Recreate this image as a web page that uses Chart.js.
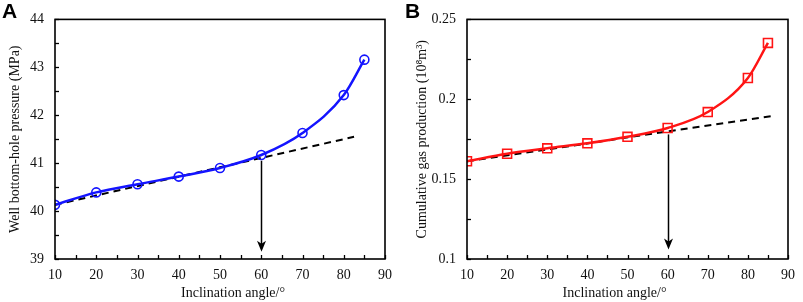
<!DOCTYPE html>
<html>
<head>
<meta charset="utf-8">
<script src="https://cdn.jsdelivr.net/npm/chart.js@4"></script>
<style>
  html, body { margin: 0; padding: 0; background: #fff; }
  .box { position: absolute; top: 0; height: 302px; }
  #box-a { left: 0; width: 400px; }
  #box-b { left: 400px; width: 403px; }
</style>
</head>
<body>
<div class="box" id="box-a"><canvas id="chart-a"></canvas></div>
<div class="box" id="box-b"><canvas id="chart-b"></canvas></div>
<script>
  /* ===================== DATA ===================== */

  let angles = [10, 20, 30, 40, 50, 60, 70, 80, 85];

  let pressure = [40.13, 40.39, 40.56, 40.72, 40.90, 41.17, 41.63, 42.42, 43.16];
  let pressureTrendX = [10, 82.5];
  let pressureTrendY = [40.13, 41.55];
  let pressureArrow = { x: 60, from: 41.05, to: 39.15 };

  let gas = [0.1612, 0.1659, 0.1693, 0.1724, 0.1765, 0.182, 0.192, 0.2133, 0.2353];
  let gasTrendX = [10, 86.3];
  let gasTrendY = [0.1612, 0.1896];
  let gasArrow = { x: 60, from: 0.178, to: 0.106 };

  let xTicks = [10, 20, 30, 40, 50, 60, 70, 80, 90];
  let pressureTicks = [39, 40, 41, 42, 43, 44];
  let gasTicks = [0.1, 0.15, 0.2, 0.25];

  let xTitle = 'Inclination angle/°';

  /* ===================== HELPERS ===================== */

  let serif = 'Liberation Serif, "Times New Roman", serif';
  Chart.defaults.font.family = serif;
  Chart.defaults.color = '#111';

  let pts = (xs, ys) => xs.map((x, i) => ({ x, y: ys[i] }));

  // frame, inward ticks, arrow, x title and panel letter
  let decor = (letter, arrow, xMinor, yMinor, titleShift) => ({
    id: 'decor',
    afterDatasetsDraw(chart) {
      let { ctx, chartArea: a, scales: { x, y } } = chart;
      ctx.save();
      ctx.strokeStyle = '#000';
      ctx.lineWidth = 1.6;
      ctx.strokeRect(a.left, a.top, a.right - a.left, a.bottom - a.top);

      ctx.lineWidth = 1.3;
      for (let v = x.min; v <= x.max + 1e-9; v += xMinor) {
        let px = Math.round(x.getPixelForValue(v)) + 0.5;
        ctx.beginPath();
        ctx.moveTo(px, a.bottom);
        ctx.lineTo(px, a.bottom - 4);
        ctx.stroke();
      }
      for (let v = y.min; v <= y.max + 1e-9; v += yMinor) {
        let py = Math.round(y.getPixelForValue(v)) + 0.5;
        ctx.beginPath();
        ctx.moveTo(a.left, py);
        ctx.lineTo(a.left + 4, py);
        ctx.stroke();
      }

      // arrow
      let ax = Math.round(x.getPixelForValue(arrow.x)) + 0.5;
      let top = y.getPixelForValue(arrow.from);
      let tip = y.getPixelForValue(arrow.to);
      ctx.lineWidth = 1.5;
      ctx.beginPath();
      ctx.moveTo(ax, top);
      ctx.lineTo(ax, tip - 6);
      ctx.stroke();
      ctx.fillStyle = '#000';
      ctx.beginPath();
      ctx.moveTo(ax, tip);
      ctx.lineTo(ax - 4.5, tip - 11);
      ctx.lineTo(ax, tip - 8);
      ctx.lineTo(ax + 4.5, tip - 11);
      ctx.closePath();
      ctx.fill();

      // x title
      ctx.fillStyle = '#111';
      ctx.font = '14px ' + serif;
      ctx.textAlign = 'center';
      ctx.textBaseline = 'middle';
      ctx.fillText(xTitle, (a.left + a.right) / 2 + titleShift, 293);

      // panel letter
      ctx.fillStyle = '#000';
      ctx.font = 'bold 21px Liberation Sans, Arial, sans-serif';
      ctx.textAlign = 'left';
      ctx.textBaseline = 'top';
      ctx.fillText(letter, letter == 'A' ? 2 : 5, 2);
      ctx.restore();
    }
  });

  let makeChart = (id, cfg) => new Chart(document.getElementById(id), {
    type: 'line',
    data: {
      datasets: [
        {
          data: pts(cfg.trendX, cfg.trendY),
          borderColor: '#000',
          borderWidth: 2,
          borderDash: [7, 5],
          pointRadius: 0,
          order: 2
        },
        {
          data: pts(angles, cfg.values),
          borderColor: cfg.color,
          borderWidth: 2.5,
          cubicInterpolationMode: 'monotone',
          pointStyle: cfg.marker,
          pointRadius: cfg.radius,
          pointBorderWidth: 1.6,
          pointBackgroundColor: 'rgba(0,0,0,0)',
          pointBorderColor: cfg.color,
          order: 1
        }
      ]
    },
    options: {
      responsive: true,
      maintainAspectRatio: false,
      animation: false,
      layout: { padding: { left: 0, top: 14, right: cfg.padRight, bottom: 0 } },
      plugins: { legend: { display: false }, tooltip: { enabled: false } },
      scales: {
        x: {
          type: 'linear',
          min: 10, max: 90,
          afterBuildTicks: s => { s.ticks = xTicks.map(value => ({ value })); },
          afterFit: s => { s.height = 43; },
          grid: { display: false, drawTicks: false },
          border: { display: false },
          ticks: { padding: 8, font: { size: 14 }, color: '#111' }
        },
        y: {
          type: 'linear',
          min: cfg.yMin, max: cfg.yMax,
          afterBuildTicks: s => { s.ticks = cfg.yTicks.map(value => ({ value })); },
          afterFit: s => { s.width = cfg.yWidth; },
          grid: { display: false, drawTicks: false },
          border: { display: false },
          ticks: { padding: 11, font: { size: 14 }, color: '#111', callback: v => String(v) },
          title: {
            display: true,
            text: cfg.yTitle,
            font: { size: 14 },
            color: '#111',
            padding: { top: cfg.yTitlePad, bottom: 0 }
          }
        }
      }
    },
    plugins: [decor(cfg.letter, cfg.arrow, 5, cfg.yMinor, cfg.titleShift)]
  });

  /* ===================== CHARTS ===================== */

  makeChart('chart-a', {
    letter: 'A',
    values: pressure,
    trendX: pressureTrendX,
    trendY: pressureTrendY,
    arrow: pressureArrow,
    color: '#1414ff',
    marker: 'circle',
    radius: 4.5,
    yMin: 39, yMax: 44,
    yTicks: pressureTicks,
    yMinor: 0.5,
    yWidth: 55,
    padRight: 13,
    yTitle: 'Well bottom-hole pressure (MPa)',
    yTitlePad: 7,
    titleShift: 13
  });

  makeChart('chart-b', {
    letter: 'B',
    values: gas,
    trendX: gasTrendX,
    trendY: gasTrendY,
    arrow: gasArrow,
    color: '#ff1414',
    marker: 'rect',
    radius: 6.3,
    yMin: 0.1, yMax: 0.25,
    yTicks: gasTicks,
    yMinor: 0.025,
    yWidth: 67,
    padRight: 8,
    yTitle: 'Cumulative gas production (10⁸m³)',
    yTitlePad: 14,
    titleShift: -13
  });
</script>
</body>
</html>
